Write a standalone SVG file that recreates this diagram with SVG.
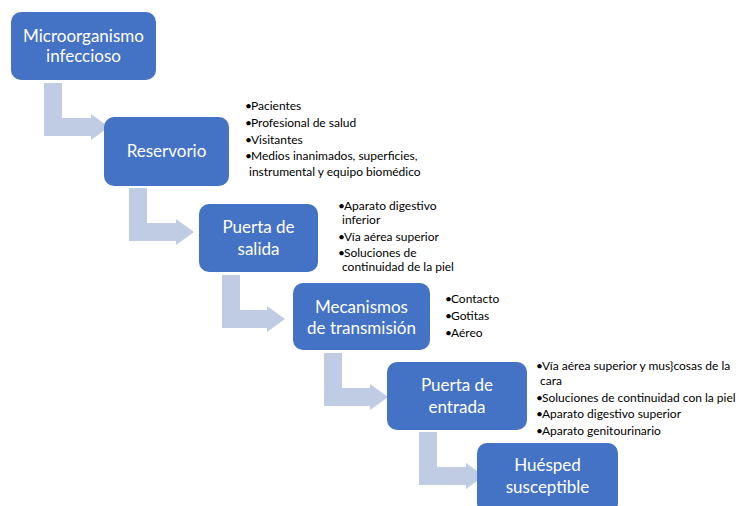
<svg xmlns="http://www.w3.org/2000/svg" width="740" height="506" viewBox="0 0 740 506">
  <style>
    .box { fill: #4472c4; }
    .lbl { fill: #ffffff; font-family: Lato, "Liberation Sans", sans-serif; font-size: 17px; text-anchor: middle; }
    .arrow { fill: #c0cbe4; }
    .li { fill: #000000; font-family: Lato, "Liberation Sans", sans-serif; font-size: 12px; }
  </style>
  <rect width="740" height="506" fill="#ffffff"/>

  <!-- bent arrows between steps -->
  <g id="connectors">
    <path class="arrow" d="M44,83 H62 V118 H91 V114 L109,127 L91,140 V136 H44 Z"/>
    <path class="arrow" d="M129,188 H147 V223 H176 V219 L194,232 L176,245 V241 H129 Z"/>
    <path class="arrow" d="M222,275 H240 V310 H267 V306 L285,319 L267,332 V328 H222 Z"/>
    <path class="arrow" d="M324,353 H342 V388 H370 V384 L388,397 L370,410 V406 H324 Z"/>
    <path class="arrow" d="M419,432 H437 V467 H466 V463 L484,476 L466,489 V485 H419 Z"/>
  </g>

  <g id="microorganismo">
    <rect class="box" x="11" y="12" width="145" height="68" rx="10"/>
    <text class="lbl" x="83.5" y="42">Microorganismo</text>
    <text class="lbl" x="83.5" y="62">infeccioso</text>
  </g>

  <g id="reservorio">
    <rect class="box" x="104" y="117" width="125" height="69" rx="10"/>
    <text class="lbl" x="166.5" y="157">Reservorio</text>
  </g>

  <g id="puerta-salida">
    <rect class="box" x="199" y="204" width="119" height="68" rx="10"/>
    <text class="lbl" x="258.5" y="233">Puerta de</text>
    <text class="lbl" x="258.5" y="255">salida</text>
  </g>

  <g id="mecanismos">
    <rect class="box" x="293" y="283" width="137" height="67" rx="10"/>
    <text class="lbl" x="361.5" y="313">Mecanismos</text>
    <text class="lbl" x="361.5" y="334">de transmisión</text>
  </g>

  <g id="puerta-entrada">
    <rect class="box" x="387" y="362" width="140" height="68" rx="10"/>
    <text class="lbl" x="457" y="391">Puerta de</text>
    <text class="lbl" x="457" y="413">entrada</text>
  </g>

  <g id="huesped">
    <rect class="box" x="477" y="443" width="141" height="70" rx="10"/>
    <text class="lbl" x="547.5" y="471">Huésped</text>
    <text class="lbl" x="547.5" y="493">susceptible</text>
  </g>

  <!-- bullet lists beside the steps -->
  <g id="lista-reservorio">
    <text class="li" x="245" y="110">•<tspan dx="-1">Pacientes</tspan></text>
    <text class="li" x="245" y="127">•<tspan dx="-1">Profesional de salud</tspan></text>
    <text class="li" x="245" y="144">•<tspan dx="-1">Visitantes</tspan></text>
    <text class="li" x="245" y="160">•<tspan dx="-1">Medios inanimados, superficies,</tspan></text>
    <text class="li" x="249" y="176">instrumental y equipo  biomédico</text>
  </g>

  <g id="lista-salida">
    <text class="li" x="338" y="210">•<tspan dx="-1">Aparato digestivo</tspan></text>
    <text class="li" x="342" y="224">inferior</text>
    <text class="li" x="338" y="241">•<tspan dx="-1">Vía aérea superior</tspan></text>
    <text class="li" x="338" y="257">•<tspan dx="-1">Soluciones de</tspan></text>
    <text class="li" x="342" y="271">continuidad de la piel</text>
  </g>

  <g id="lista-mecanismos">
    <text class="li" x="445" y="303">•<tspan dx="-1">Contacto</tspan></text>
    <text class="li" x="445" y="320">•<tspan dx="-1">Gotitas</tspan></text>
    <text class="li" x="445" y="337">•<tspan dx="-1">Aéreo</tspan></text>
  </g>

  <g id="lista-entrada">
    <text class="li" x="536" y="370">•<tspan dx="-1">Vía aérea superior y mus}cosas de la</tspan></text>
    <text class="li" x="540" y="385">cara</text>
    <text class="li" x="536" y="402">•<tspan dx="-1">Soluciones de continuidad con la piel</tspan></text>
    <text class="li" x="536" y="418">•<tspan dx="-1">Aparato digestivo superior</tspan></text>
    <text class="li" x="536" y="435">•<tspan dx="-1">Aparato genitourinario</tspan></text>
  </g>
</svg>
